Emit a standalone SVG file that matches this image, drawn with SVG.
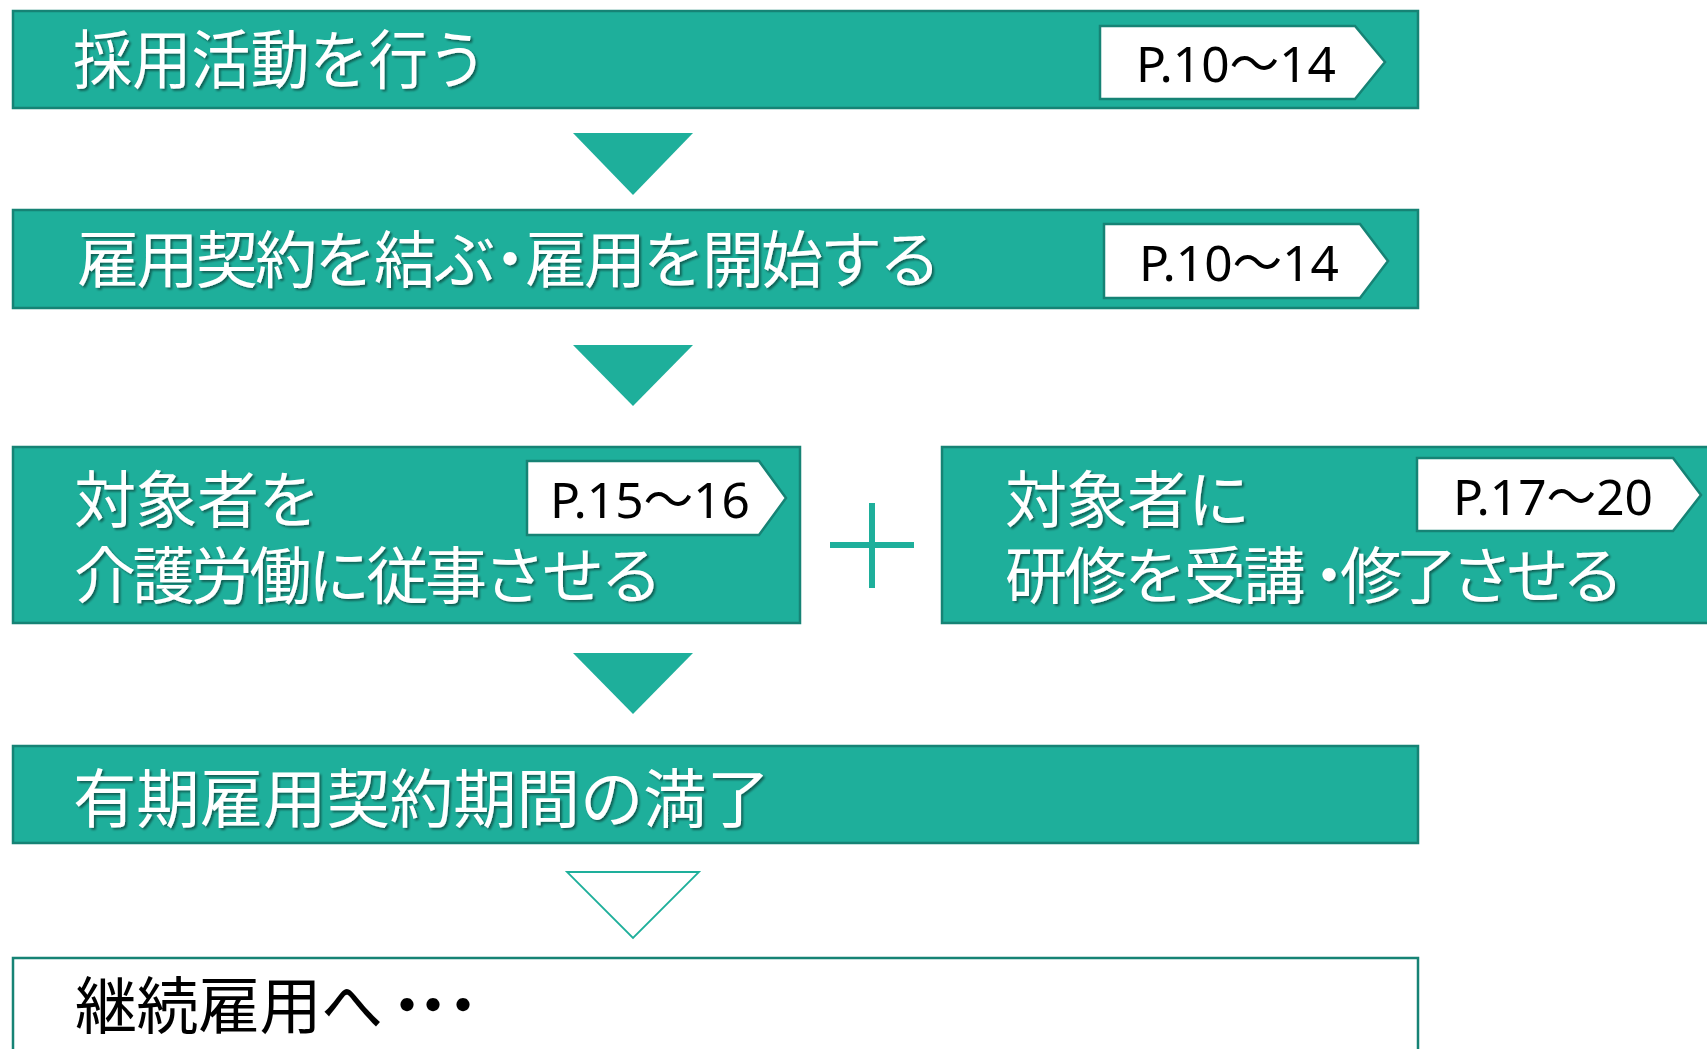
<svg xmlns="http://www.w3.org/2000/svg" width="1707" height="1049" viewBox="0 0 1707 1049">
<defs>
<filter id="sh" x="-5%" y="-20%" width="110%" height="140%">
<feDropShadow dx="2" dy="2" stdDeviation="1.2" flood-color="#000" flood-opacity="0.45"/>
</filter>
<style>
.box{fill:#1EAF9B;stroke:#168375;stroke-width:2.5}
.wbox{fill:#fff;stroke:#168375;stroke-width:2.5}
.badge{fill:#fff;stroke:#168375;stroke-width:2.5}
.jt{font-family:"Noto Sans CJK JP","Noto Sans",sans-serif;font-size:64px;fill:#fff;filter:url(#sh)}
.jp{font-size:62px}
.jb{font-family:"Noto Sans CJK JP","Noto Sans",sans-serif;font-size:62px;fill:#000}
.bt{font-family:"Noto Sans","Noto Sans CJK JP",sans-serif;font-size:50px;fill:#000}
.tri{fill:#1EAF9B}
.otri{fill:#fff;stroke:#1EAF9B;stroke-width:1.8}
.plus{stroke:#1EAF9B;stroke-width:6;fill:none}
</style>
</defs>
<g id="step1">
<rect class="box" x="13" y="11" width="1405" height="97"/>
<text class="jt" x="73" y="83" textLength="414" lengthAdjust="spacingAndGlyphs">採用活動を行う</text>
<polygon class="badge" points="1100,26 1355,26 1385,62 1355,99 1100,99"/>
<text class="bt" x="1136" y="82" textLength="200" lengthAdjust="spacingAndGlyphs">P.10～14</text>
</g>
<g id="step2">
<rect class="box" x="13" y="210" width="1405" height="98"/>
<text class="jt jp" x="77 136.4 195.8 255.2 314.6 374 433.4 479 525 584 643 702 761 820 879" y="283">雇用契約を結ぶ・雇用を開始する</text>
<polygon class="badge" points="1104,224 1360,224 1388,261 1360,298 1104,298"/>
<text class="bt" x="1139" y="281" textLength="200" lengthAdjust="spacingAndGlyphs">P.10～14</text>
</g>
<g id="step3a">
<rect class="box" x="13" y="447" width="787" height="176"/>
<text class="jt jp"><tspan x="74 135.5 197 258.5" y="523">対象者を</tspan><tspan x="74 132.5 191 249.5 308 366.5 425 483.5 542 600.5" y="599">介護労働に従事させる</tspan></text>
<polygon class="badge" points="527,461 759,461 786,498 759,535 527,535"/>
<text class="bt" x="550" y="518" textLength="200" lengthAdjust="spacingAndGlyphs">P.15～16</text>
</g>
<g id="plus">
<line class="plus" x1="830" y1="545" x2="914" y2="545"/>
<line class="plus" x1="872" y1="503" x2="872" y2="588"/>
</g>
<g id="step3b">
<rect class="box" x="942" y="447" width="780" height="176"/>
<text class="jt jp"><tspan x="1005 1066 1127 1188" y="523">対象者に</tspan><tspan x="1005 1064.6 1124.2 1183.8 1243.4 1298 1340 1395.5 1451 1506.5 1562" y="599">研修を受講・修了させる</tspan></text>
<polygon class="badge" points="1417,458 1673,458 1701,495 1673,531 1417,531"/>
<text class="bt" x="1453" y="515" textLength="200" lengthAdjust="spacingAndGlyphs">P.17～20</text>
</g>
<g id="step4">
<rect class="box" x="13" y="746" width="1405" height="97"/>
<text class="jt" x="73" y="822" textLength="697" lengthAdjust="spacingAndGlyphs">有期雇用契約期間の満了</text>
</g>
<g id="step5">
<rect class="wbox" x="13" y="958" width="1405" height="100"/>
<text class="jb" x="75 136.5 198 259.5 321 376 402 432" y="1029">継続雇用へ・・・</text>
</g>
<g id="connectors">
<polygon class="tri" points="573,133 693,133 633,195"/>
<polygon class="tri" points="573,345 693,345 633,406"/>
<polygon class="tri" points="573,653 693,653 633,714"/>
<polygon class="otri" points="567,872 699,872 633,938"/>
</g>
</svg>
